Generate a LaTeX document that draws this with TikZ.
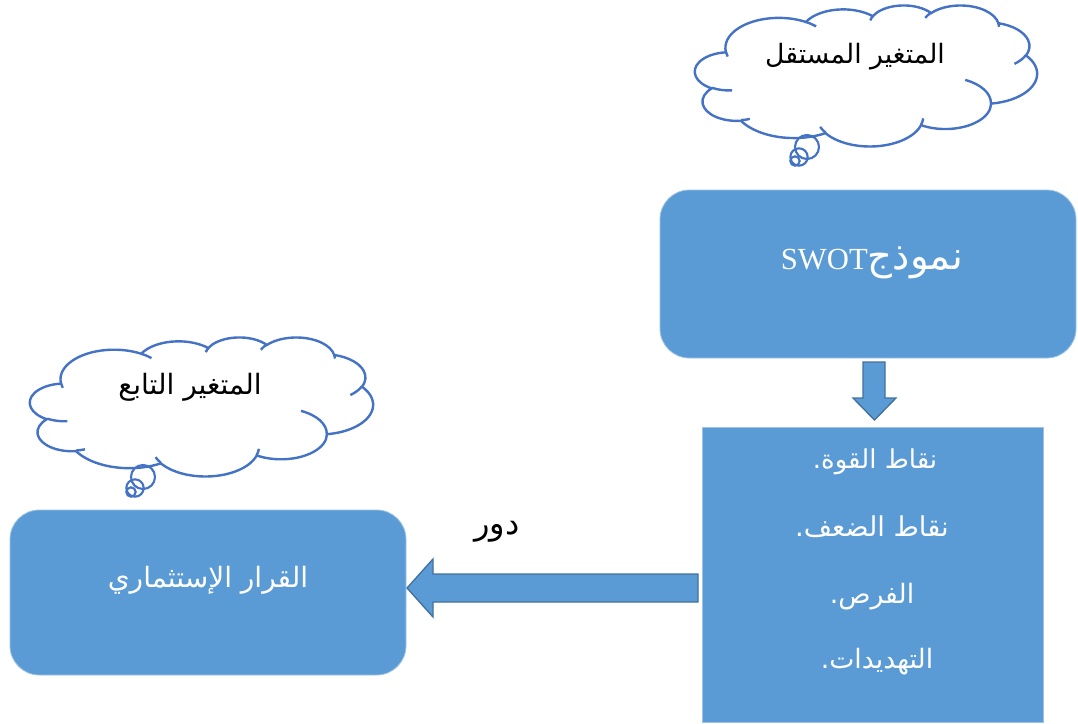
\documentclass[tikz,border=0pt]{standalone}
\usepackage{fontspec}
\setmainfont{Liberation Serif}
\newfontfamily\arabicfont[Script=Arabic]{DejaVu Sans}
\TeXXeTstate=1
\definecolor{boxblue}{HTML}{5B9BD5}
\definecolor{edgeblue}{HTML}{41719C}
\definecolor{lightedge}{HTML}{9DC3E6}
\definecolor{cloudblue}{HTML}{4472C4}
\newcommand\oa[4]{arc[start angle={vp(#1,#2,#3)}, end angle={ve(#1,#2,#3,#4)}, x radius=#1, y radius=#2]}
\newcommand\mycloud{%
  \draw[cloudline] (39,143.70)
    \oa{67.53}{91.90}{-190.4875}{123.7805}
    \oa{53.33}{72.67}{-144.1024}{89.9452}
    \oa{43.65}{59.45}{-145.8079}{99.7230}
    \oa{48.57}{65.95}{-130.9861}{117.2417}
    \oa{53.33}{72.73}{-78.7089}{109.0269}
    \oa{67.75}{92.20}{-46.2673}{130.2690}
    \oa{57.85}{78.67}{0.6250}{114.0333}
    \oa{67.52}{92.15}{22.4516}{115.1726}
    \oa{77.20}{105.43}{66.2426}{75.7110}
    \oa{43.60}{59.18}{-274.9421}{146.7356}
    \oa{43.45}{59.45}{-246.8285}{152.5189} -- cycle;
  \draw[cloudline] (46.93,261.77) \oa{43.45}{59.45}{86.7420}{26.4295};
  \draw[cloudline] (69.28,348.99) \oa{43.60}{59.18}{73.6105}{11.4475};
  \draw[cloudline] (164.78,390.90) \oa{67.52}{92.15}{137.6242}{14.0811};
  \draw[cloudline] (288.27,347.51) \oa{67.52}{92.15}{6.4533}{15.9984};
  \draw[cloudline] (341.29,229.54) \oa{57.85}{78.67}{-70.2924}{70.9174};
  \draw[cloudline] (417.98,153.54) \oa{53.33}{72.73}{30.3180}{27.7515};
  \draw[cloudline] (383.24,54.26) \oa{48.57}{65.95}{-13.7443}{14.8589};
  \draw[cloudline] (290.78,39.52) \oa{48.57}{65.95}{-149.1815}{18.1954};
  \draw[cloudline] (221.41,47.20) \oa{43.65}{59.45}{-163.4943}{17.6864};
  \draw[cloudline] (140.00,51.92) \oa{67.53}{91.90}{-66.7070}{12.3194};
  \draw[cloudline] (41.27,157.89) \oa{67.53}{91.90}{157.6544}{11.8582};
}
\tikzset{
  rbox/.style={rounded corners=22pt, fill=boxblue, draw=lightedge, line width=0.6pt},
  sbox/.style={fill=boxblue, draw=lightedge, line width=0.6pt},
  bigarrow/.style={fill=boxblue, draw=edgeblue, line width=1pt, line join=miter},
  cloudline/.style={draw=cloudblue, line width=1.8pt},
  bubble/.style={circle, draw=cloudblue, line width=1.6pt, inner sep=0pt},
  wtext/.style={text=white, inner sep=0pt},
  btext/.style={text=black, inner sep=0pt},
}
\begin{document}
\begin{tikzpicture}[x=0.75pt,y=-0.75pt,
  declare function={
    vp(\a,\b,\t)=atan2(\a*sin(\t),\b*cos(\t));
    ve(\a,\b,\s,\w)=vp(\a,\b,\s)+vp(\a,\b,\s+\w)-vp(\a,\b,\s)+360*round((\w-vp(\a,\b,\s+\w)+vp(\a,\b,\s))/360);
  }]
\useasboundingbox (0,0) rectangle (1078,724);
% boxes
\node[rbox, minimum width=312pt, minimum height=126pt] (swot) at (868,274) {};
\node[sbox, minimum width=255.75pt, minimum height=221.25pt] (list) at (872.5,574.5) {};
\node[rbox, minimum width=297pt, minimum height=123.75pt] (dec) at (208,592.5) {};
% arrows
\draw[bigarrow] (863,362) -- (885,362) -- (885,398) -- (896,398) -- (874.5,420) -- (853,398) -- (863,398) -- cycle;
\draw[bigarrow] (698,574) -- (698,602) -- (433,602) -- (433,617) -- (407,588) -- (433,559) -- (433,574) -- cycle;
% clouds
\begin{scope}[shift={(695,5)}, xscale=0.79167, yscale=0.32639]
  \mycloud
\end{scope}
\node[bubble, minimum size=18pt] (c1b1) at (807,147) {};
\node[bubble, minimum size=13pt] (c1b2) at (799,157) {};
\node[bubble, minimum size=7pt] (c1b3) at (795,161) {};
\begin{scope}[shift={(30,337)}, xscale=0.79398, yscale=0.32176]
  \mycloud
\end{scope}
\node[bubble, minimum size=18pt] (c2b1) at (143,477) {};
\node[bubble, minimum size=13pt] (c2b2) at (135,488) {};
\node[bubble, minimum size=7pt] (c2b3) at (131,492) {};
% texts
\node[btext] (t1) at (855,57) {\arabicfont\fontsize{20}{24}\selectfont\beginR المتغير المستقل\endR};
\node[btext] (t2) at (190,387) {\arabicfont\fontsize{21}{24}\selectfont\beginR المتغير التابع\endR};
\node[wtext] (t3) at (872,263) {\fontsize{23}{28}\selectfont\beginR{\arabicfont\fontsize{29}{32}\selectfont نموذج}\beginL SWOT\endL\endR};
\node[wtext] (l1) at (875,462) {\arabicfont\fontsize{19.5}{22}\selectfont\beginR نقاط القوة.\endR};
\node[wtext] (l2) at (872,527) {\arabicfont\fontsize{20.5}{22}\selectfont\beginR نقاط الضعف.\endR};
\node[wtext] (l3) at (872,597) {\arabicfont\fontsize{20}{22}\selectfont\beginR الفرص.\endR};
\node[wtext] (l4) at (877,662) {\arabicfont\fontsize{20}{22}\selectfont\beginR التهديدات.\endR};
\node[wtext] (d1) at (208,580) {\arabicfont\fontsize{21}{24}\selectfont\beginR القرار الإستثماري\endR};
\node[btext] (lab) at (497,532) {\arabicfont\fontsize{24}{28}\selectfont\beginR دور\endR};
\end{tikzpicture}
\end{document}
